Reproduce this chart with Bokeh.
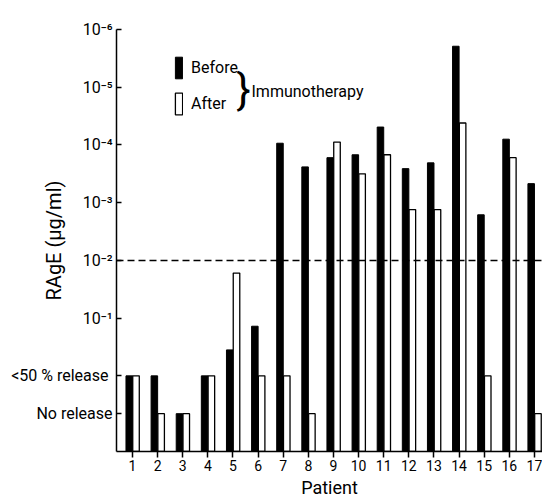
from bokeh.plotting import figure
from bokeh.models import FixedTicker, Span, Legend, LegendItem, Label, ColumnDataSource
from bokeh.transform import dodge
from bokeh.embed import file_html
from bokeh.resources import INLINE

FONT = "Roboto"

# Levels on the (inverted log) axis: value = -log10(RAgE in ug/ml)
LT50 = 0.0        # "<50 % release" level
NO_REL = -0.655   # "No release" level
BASE = -1.31      # axis baseline

patients = list(range(1, 18))
before = [LT50, LT50, NO_REL, LT50, 0.45, 0.86, 4.03, 3.62, 3.78, 3.83, 4.31, 3.59, 3.69, 5.71, 2.79, 4.10, 3.33]
after = [LT50, NO_REL, NO_REL, LT50, 1.78, LT50, LT50, NO_REL, 4.05, 3.50, 3.83, 2.88, 2.88, 4.38, LT50, 3.78, NO_REL]
threshold = 2.0   # 10^-2 ug/ml

ytick_vals = [6, 5, 4, 3, 2, 1, LT50, NO_REL]
ytick_labels = ["10⁻⁶", "10⁻⁵", "10⁻⁴", "10⁻³", "10⁻²", "10⁻¹", "<50 %  release", "No release"]

src = ColumnDataSource(dict(patient=patients, before=before, after=after))

p = figure(frame_width=426, frame_height=422, output_backend="svg", toolbar_location=None,
           x_range=(0.363, 17.32), y_range=(BASE, 6.0),
           min_border_left=116, min_border_right=0, min_border_top=29, min_border_bottom=48)
p.xgrid.visible = False
p.ygrid.visible = False
p.outline_line_color = None
p.background_fill_color = "white"

rb = p.vbar(x=dodge("patient", -0.13), top="before", bottom=BASE, width=0.26, source=src,
            fill_color="black", line_color="black", line_width=1)
ra = p.vbar(x=dodge("patient", 0.14), top="after", bottom=BASE, width=0.26, source=src,
            fill_color="white", line_color="black", line_width=1.3)

p.add_layout(Span(location=threshold, dimension="width", line_dash="7 4",
                  line_width=1.5, line_color="black"))

# axes
xa = p.xaxis[0]
xa.ticker = FixedTicker(ticks=patients)
xa.minor_tick_line_color = None
xa.major_tick_in = 0
xa.major_tick_out = 6
xa.major_tick_line_width = 1.5
xa.major_tick_line_color = "black"
xa.axis_line_width = 1.5
xa.axis_line_color = "black"
xa.major_label_text_font = FONT
xa.major_label_text_font_size = "14px"
xa.major_label_text_color = "black"
xa.major_label_standoff = 2
xa.axis_label = "Patient"
xa.axis_label_text_font = FONT
xa.axis_label_text_font_size = "18px"
xa.axis_label_text_font_style = "normal"
xa.axis_label_text_color = "black"
xa.axis_label_standoff = 3

ya = p.yaxis[0]
ya.ticker = FixedTicker(ticks=ytick_vals)
ya.major_label_overrides = {v: l for v, l in zip(ytick_vals, ytick_labels)}
ya.minor_tick_line_color = None
ya.major_tick_in = 5
ya.major_tick_out = 0
ya.major_tick_line_width = 1.5
ya.major_tick_line_color = "black"
ya.axis_line_width = 1.5
ya.axis_line_color = "black"
ya.major_label_text_font = FONT
ya.major_label_text_font_size = "16px"
ya.major_label_text_color = "black"
ya.major_label_standoff = 4
ya.axis_label = "RAgE (μg/ml)"
ya.axis_label_text_font = FONT
ya.axis_label_text_font_size = "20px"
ya.axis_label_text_font_style = "normal"
ya.axis_label_text_color = "black"
ya.axis_label_standoff = -58

# legend
legend = Legend(items=[LegendItem(label="Before", renderers=[rb]),
                       LegendItem(label="After", renderers=[ra])],
                location=(58, 334), orientation="vertical",
                glyph_width=9, glyph_height=27, spacing=9, padding=0, margin=0,
                border_line_alpha=0, background_fill_alpha=0,
                label_text_font=FONT, label_text_font_size="16px",
                label_text_color="black", label_standoff=8)
p.add_layout(legend)

p.add_layout(Label(x=127, y=362, x_units="screen", y_units="screen", text="}",
                   text_font=FONT, text_font_size="42px", text_align="center",
                   text_baseline="middle", text_color="black"))
p.add_layout(Label(x=135, y=360, x_units="screen", y_units="screen", text="Immunotherapy",
                   text_font=FONT, text_font_size="16px", text_baseline="middle",
                   text_color="black"))

open("out.html", "w").write(file_html(p, INLINE))
